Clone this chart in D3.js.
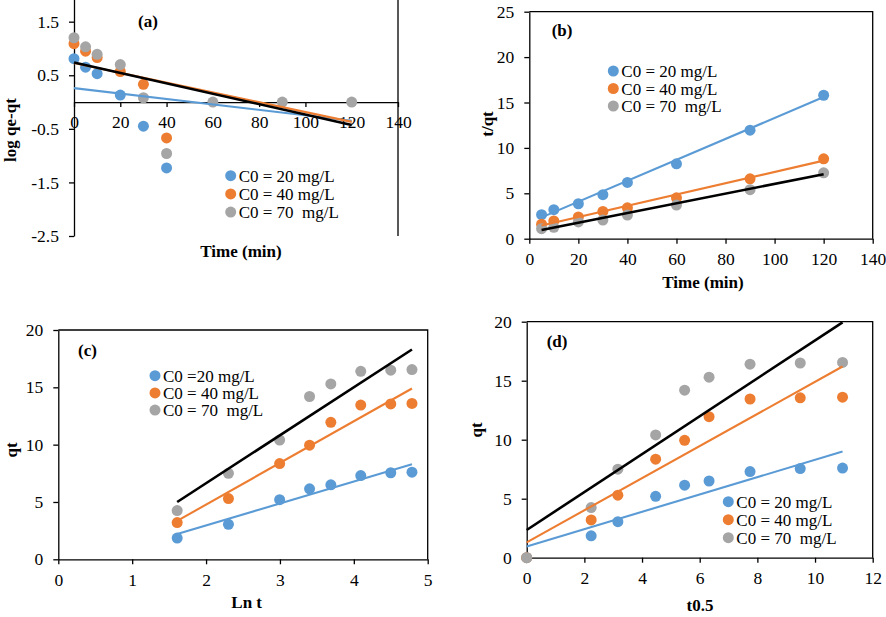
<!DOCTYPE html>
<html><head><meta charset="utf-8">
<script src="https://cdn.jsdelivr.net/npm/d3@7"></script>
<style>
body{margin:0;background:#fff}
svg{display:block}
text{font-family:"Liberation Serif","Times New Roman",serif;fill:#000}
</style>
</head><body>
<svg id="chart" width="886" height="617"></svg>
<script>
// ---------- data ----------
const colors = ["#5B9BD5", "#ED7D31", "#A5A5A5"];
const fitColors = ["#5B9BD5", "#ED7D31", "#000000"];
const legendAB = ["C0 = 20 mg/L", "C0 = 40 mg/L", "C0 = 70  mg/L"];
const legendC = ["C0 =20 mg/L", "C0 = 40 mg/L", "C0 = 70  mg/L"];
const legendD = ["C0 = 20 mg/L", "C0 = 40 mg/L", "C0 = 70  mg/L"];

// (a) pseudo-first-order
const timeA = [0, 5, 10, 20, 30, 40, 60, 90, 120];
const logA20 = [0.81, 0.65, 0.53, 0.13, -0.45, -1.23, null, null, null];
const logA40 = [1.09, 0.95, 0.83, 0.57, 0.33, -0.67, null, null, null];
const logA70 = [1.20, 1.03, 0.89, 0.70, 0.08, -0.96, 0, 0, 0];
const fitTimeA = [0, 120];
const fitA20 = [0.26, -0.35];
const fitA40 = [0.73, -0.37];
const fitA70 = [0.74, -0.43];
const xTicksA = [0, 20, 40, 60, 80, 100, 120, 140];
const yTicksA = [-2.5, -1.5, -0.5, 0.5, 1.5];

// (b) pseudo-second-order
const timeB = [5, 10, 20, 30, 40, 60, 90, 120];
const tqB20 = [2.65, 3.2, 3.85, 4.85, 6.2, 8.25, 11.95, 15.8];
const tqB40 = [1.6, 1.95, 2.4, 3.0, 3.4, 4.5, 6.6, 8.8];
const tqB70 = [1.1, 1.25, 1.85, 2.05, 2.6, 3.7, 5.4, 7.25];
const fitTimeB = [5, 120];
const fitB20 = [2.35, 15.6];
const fitB40 = [1.45, 8.6];
const fitB70 = [0.95, 7.1];
const xTicksB = [0, 20, 40, 60, 80, 100, 120, 140];
const yTicksB = [0, 5, 10, 15, 20, 25];

// (c) Elovich
const lnT = [1.609, 2.303, 2.996, 3.401, 3.689, 4.094, 4.500, 4.787];
const qtC20 = [1.85, 3.05, 5.2, 6.15, 6.5, 7.3, 7.55, 7.6];
const qtC40 = [3.2, 5.3, 8.35, 9.95, 11.95, 13.45, 13.55, 13.6];
const qtC70 = [4.25, 7.5, 10.4, 14.2, 15.3, 16.4, 16.5, 16.55];
const fitLnT = [1.609, 4.787];
const fitC20 = [2.2, 8.3];
const fitC40 = [3.35, 14.9];
const fitC70 = [5.0, 18.3];
const xTicksC = [0, 1, 2, 3, 4, 5];
const yTicksC = [0, 5, 10, 15, 20];

// (d) intraparticle diffusion
const sqrtT = [0, 2.236, 3.162, 4.472, 5.477, 6.325, 7.746, 9.487, 10.954];
const qtD20 = [0, 1.85, 3.05, 5.2, 6.15, 6.5, 7.3, 7.55, 7.6];
const qtD40 = [0, 3.2, 5.3, 8.35, 9.95, 11.95, 13.45, 13.55, 13.6];
const qtD70 = [0, 4.25, 7.5, 10.4, 14.2, 15.3, 16.4, 16.5, 16.55];
const fitSqrtT = [0, 10.954];
const fitD20 = [0.95, 9.0];
const fitD40 = [1.3, 16.2];
const fitD70 = [2.35, 19.95];
const xTicksD = [0, 2, 4, 6, 8, 10, 12];
const yTicksD = [0, 5, 10, 15, 20];

// ---------- drawing ----------
const svg = d3.select("#chart");
const FONT = "'Liberation Serif', 'Times New Roman', serif";
const fmt1 = d => d.toFixed(1);
const fmt0 = d => String(d);

function panel(o) {
  const g = svg.append("g");
  const x = d3.scaleLinear().domain(o.xDom).range(o.xRange);
  const y = d3.scaleLinear().domain(o.yDom).range(o.yRange);

  // frame (top + right)
  g.append("path")
    .attr("d", `M${x(o.xDom[0])},${y(o.yDom[1])}H${x(o.xDom[1])}V${y(o.yDom[0])}`)
    .attr("fill", "none").attr("stroke", "#000").attr("stroke-width", 1.3);

  const yAx = g.append("g")
    .attr("transform", `translate(${x(o.xCross)},0)`)
    .call(d3.axisLeft(y).tickValues(o.yTicks).tickSize(5).tickSizeOuter(0)
      .tickPadding(10).tickFormat(o.yFmt));
  const xAx = g.append("g")
    .attr("transform", `translate(0,${y(o.yCross)})`)
    .call(d3.axisBottom(x).tickValues(o.xTicks).tickSize(5).tickSizeOuter(0)
      .tickPadding(9).tickFormat(fmt0));
  [yAx, xAx].forEach(a => {
    a.attr("font-size", o.tickFs).attr("font-family", FONT);
    a.selectAll("text").style("font-family", FONT);
    a.selectAll("path,line").attr("stroke", "#000").attr("stroke-width", 1.3);
  });

  // points
  o.series.forEach((s, i) => {
    g.append("g").selectAll("circle")
      .data(o.xs.map((v, k) => [v, s[k]]).filter(d => d[1] !== null))
      .join("circle")
      .attr("cx", d => x(d[0])).attr("cy", d => y(d[1]))
      .attr("r", 5.5).attr("fill", colors[i]);
  });
  // fitted lines
  const line = d3.line().x(d => x(d[0])).y(d => y(d[1]));
  o.fits.forEach((f, i) => {
    g.append("path")
      .attr("d", line(o.fitX.map((v, k) => [v, f[k]])))
      .attr("fill", "none").attr("stroke", fitColors[i])
      .attr("stroke-width", i === 2 ? 2.6 : 2.1);
  });

  // legend
  o.legend.forEach((t, i) => {
    const ly = o.legPos[1] + i * o.legStep;
    g.append("circle").attr("cx", o.legPos[0]).attr("cy", ly).attr("r", 5.5).attr("fill", colors[i]);
    g.append("text").attr("x", o.legPos[0] + 8).attr("y", ly + 6)
      .attr("font-size", 17).style("white-space", "pre").text(t);
  });

  // panel label
  g.append("text").attr("x", o.label[0]).attr("y", o.label[1])
    .attr("font-size", 17).attr("font-weight", "bold").text(o.label[2]);

  // axis titles
  g.append("text").attr("x", o.xTitle[0]).attr("y", o.xTitle[1])
    .attr("text-anchor", "middle").attr("font-size", 17).attr("font-weight", "bold").text(o.xTitle[2]);
  g.append("text")
    .attr("transform", `translate(${o.yTitle[0]},${o.yTitle[1]}) rotate(-90)`)
    .attr("text-anchor", "middle").attr("font-size", 17).attr("font-weight", "bold").text(o.yTitle[2]);
}

panel({
  xDom: [0, 140], xRange: [74, 398], yDom: [-2.5, 2.5], yRange: [236, -31.9],
  xCross: 0, yCross: 0, xTicks: xTicksA, yTicks: yTicksA, yFmt: fmt1, tickFs: 17.5,
  xs: timeA, series: [logA20, logA40, logA70],
  fitX: fitTimeA, fits: [fitA20, fitA40, fitA70],
  legend: legendAB, legPos: [230.7, 175.7], legStep: 18.2,
  label: [138, 27, "(a)"], xTitle: [241, 257, "Time (min)"], yTitle: [16, 130, "log qe-qt"]
});
panel({
  xDom: [0, 140], xRange: [529.3, 872.7], yDom: [0, 25], yRange: [238.7, 11.7],
  xCross: 0, yCross: 0, xTicks: xTicksB, yTicks: yTicksB, yFmt: fmt0, tickFs: 17.5,
  xs: timeB, series: [tqB20, tqB40, tqB70],
  fitX: fitTimeB, fits: [fitB20, fitB40, fitB70],
  legend: legendAB, legPos: [613.3, 71], legStep: 17.5,
  label: [551.7, 36, "(b)"], xTitle: [703, 288, "Time (min)"], yTitle: [493, 124, "t/qt"]
});
panel({
  xDom: [0, 5], xRange: [58.3, 427.7], yDom: [0, 20], yRange: [559.3, 330],
  xCross: 0, yCross: 0, xTicks: xTicksC, yTicks: yTicksC, yFmt: fmt0, tickFs: 17.5,
  xs: lnT, series: [qtC20, qtC40, qtC70],
  fitX: fitLnT, fits: [fitC20, fitC40, fitC70],
  legend: legendC, legPos: [155, 375.7], legStep: 17.2,
  label: [78, 356, "(c)"], xTitle: [246.7, 608, "Ln t"], yTitle: [17, 450, "qt"]
});
panel({
  xDom: [0, 12], xRange: [526.7, 872.7], yDom: [0, 20], yRange: [557.7, 321.7],
  xCross: 0, yCross: 0, xTicks: xTicksD, yTicks: yTicksD, yFmt: fmt0, tickFs: 17.5,
  xs: sqrtT, series: [qtD20, qtD40, qtD70],
  fitX: fitSqrtT, fits: [fitD20, fitD40, fitD70],
  legend: legendD, legPos: [728.3, 501.7], legStep: 18,
  label: [546.7, 347, "(d)"], xTitle: [700, 611, "t0.5"], yTitle: [482, 430, "qt"]
});
</script>
</body></html>
